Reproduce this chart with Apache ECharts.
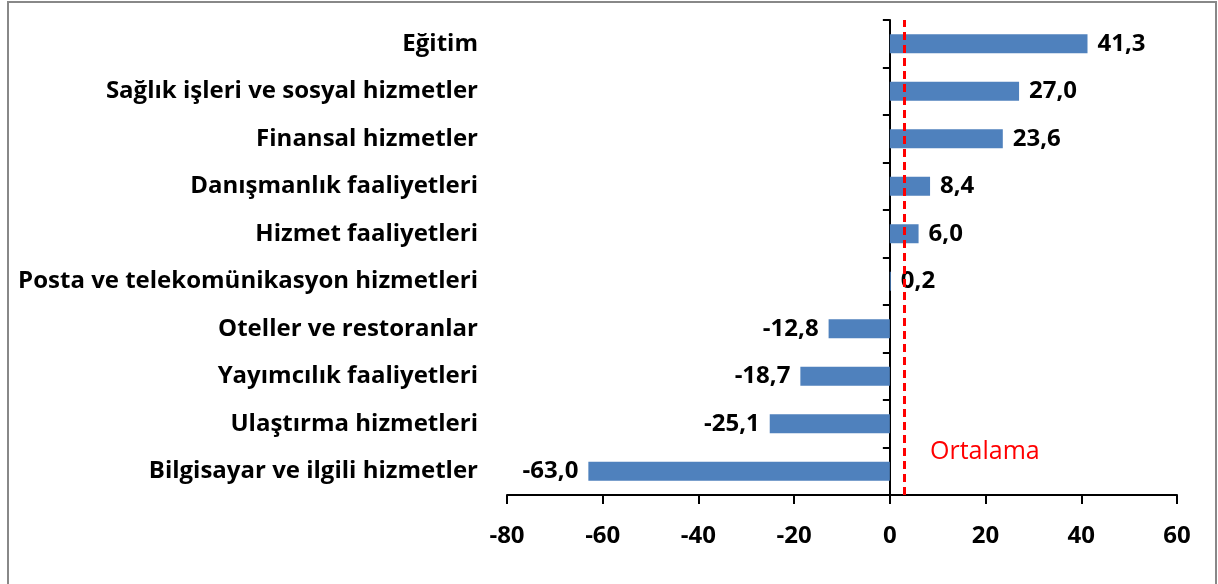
<!DOCTYPE html>
<html>
<head>
<meta charset="utf-8">
<script src="https://cdn.jsdelivr.net/npm/echarts@6/dist/echarts.min.js"></script>
<style>
html, body { margin: 0; padding: 0; background: #fff; }
#chart { width: 1218px; height: 584px; }
</style>
</head>
<body>
<div id="chart"></div>
<script>
var categories = ['Bilgisayar ve ilgili hizmetler', 'Ulaştırma hizmetleri', 'Yayımcılık faaliyetleri',
    'Oteller ve restoranlar', 'Posta ve telekomünikasyon hizmetleri', 'Hizmet faaliyetleri',
    'Danışmanlık faaliyetleri', 'Finansal hizmetler', 'Sağlık işleri ve sosyal hizmetler', 'Eğitim'];
var values = [-63.0, -25.1, -18.7, -12.8, 0.2, 6.0, 8.4, 23.6, 27.0, 41.3];
var average = 3.1;
var averageName = 'Ortalama';

var myChart = echarts.init(document.getElementById('chart'));
var font = '"Open Sans", Lato, sans-serif';

option = {
    animation: false,
    grid: { left: 507, right: 41, top: 20, bottom: 89, containLabel: false, outerBoundsMode: 'none' },
    graphic: [
        {
            type: 'polyline',
            shape: { points: [[8, 584], [8, 2], [1216, 2], [1216, 584]] },
            style: { stroke: '#888', lineWidth: 2, fill: null }
        },
        {
            type: 'text',
            x: 930, y: 452,
            style: { text: averageName, fill: '#ff0000', font: '25px ' + font, verticalAlign: 'middle' }
        }
    ],
    xAxis: {
        type: 'value',
        min: -80, max: 60, interval: 20,
        splitLine: { show: false },
        axisLine: { show: true, lineStyle: { color: '#000', width: 2 } },
        axisTick: { show: true, length: 9, lineStyle: { color: '#000', width: 2 } },
        axisLabel: {
            color: '#000', fontWeight: 'bold', fontSize: 24, fontFamily: font, margin: 29
        }
    },
    yAxis: {
        type: 'category',
        data: categories,
        axisLine: { onZero: true, lineStyle: { color: '#000', width: 2 } },
        axisTick: { show: true, length: 7, lineStyle: { color: '#000', width: 2 } },
        axisLabel: {
            interval: 0, margin: 29, color: '#000', fontWeight: 'bold', fontSize: 24, fontFamily: font
        }
    },
    series: [{
        type: 'bar',
        data: values.map(function (v) {
            // negative bars carry the label on the left
            return v < 0 ? { value: v, label: { position: 'left' } } : v;
        }),
        barWidth: '40%',
        itemStyle: { color: '#4f81bd' },
        label: {
            show: true,
            position: 'right',
            distance: 10,
            color: '#000', fontWeight: 'bold', fontSize: 24, fontFamily: font,
            formatter: function (p) { return p.value.toFixed(1).replace('.', ','); }
        },
        markLine: {
            silent: true,
            symbol: 'none',
            label: { show: false },
            lineStyle: { color: '#ff0000', type: [8, 5], width: 3 },
            data: [{ xAxis: average }]
        }
    }]
};
myChart.setOption(option);
</script>
</body>
</html>
